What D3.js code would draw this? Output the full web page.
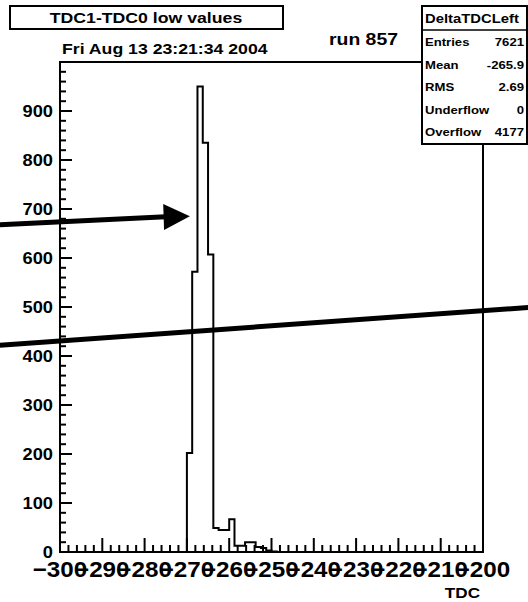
<!DOCTYPE html>
<html><head><meta charset="utf-8">
<script src="https://cdn.jsdelivr.net/npm/d3@7"></script>
<style>
body{margin:0;background:#fff}
svg{display:block}
text{font-family:"Liberation Sans",Arial,Helvetica,sans-serif;font-weight:bold;fill:#000}
</style>
</head><body>
<svg id="c" width="528" height="602"></svg>
<script>
// DeltaTDCLeft histogram: 80 bins of 1.25 TDC counts over [-300, -200)
const xDomain = [-300, -200];
const yDomain = [0, 1000];
const binWidth = 1.25;
const firstFilledEdge = -270;
const binCounts = [202, 572, 950, 835, 607, 49, 45, 45, 67, 13, 13, 20, 20, 10, 8, 3, 1];

const xMajorTicks = d3.range(-300, -199, 10);
const xMinorTicks = d3.range(-300, -199, 2);
const yMajorTicks = d3.range(0, 901, 100);
const yMinorTicks = d3.range(0, 1001, 20);

const titleText = "TDC1-TDC0 low values";
const dateText = "Fri Aug 13 23:21:34 2004";
const runText = "run 857";
const axisTitle = "TDC";
const statsName = "DeltaTDCLeft";
const statsLabels = ["Entries", "Mean", "RMS", "Underflow", "Overflow"];
const statsValues = ["7621", "-265.9", "2.69", "0", "4177"];

// hand-drawn annotations, in data units
const arrowShaft = [[-314.2, 668], [-275.0, 684]];
const arrowHead = [[-275.6, 710], [-269.3, 685], [-275.4, 657]];
const slashLine = [[-314.2, 422], [-189.3, 499]];

const svg = d3.select("#c");
const frame = {left: 60, right: 483, top: 62, bottom: 552};
const x = d3.scaleLinear().domain(xDomain).range([frame.left, frame.right]);
const y = d3.scaleLinear().domain(yDomain).range([frame.bottom, frame.top]);

// the canvas fonts are slightly wider than the stock glyphs
function stretch(k) {
  return sel => sel.each(function () {
    const len = this.getComputedTextLength();
    d3.select(this).attr("textLength", len * k).attr("lengthAdjust", "spacingAndGlyphs");
  });
}

// frame
svg.append("rect")
  .attr("x", frame.left).attr("y", frame.top)
  .attr("width", frame.right - frame.left).attr("height", frame.bottom - frame.top)
  .attr("fill", "none").attr("stroke", "#000").attr("stroke-width", 2);

// histogram outline
const pts = [[xDomain[0], 0]];
binCounts.forEach((c, i) => pts.push([firstFilledEdge + i * binWidth, c]));
pts.push([firstFilledEdge + binCounts.length * binWidth, 0]);
pts.push([xDomain[1], 0]);
svg.append("path")
  .attr("d", d3.line().x(d => x(d[0])).y(d => y(d[1])).curve(d3.curveStepAfter)(pts))
  .attr("fill", "none").attr("stroke", "#000").attr("stroke-width", 2);

// x axis ticks (drawn upward from the bottom of the frame)
const gx = svg.append("g").attr("transform", `translate(0,${frame.bottom})`);
gx.selectAll("line").data(xMinorTicks).join("line")
  .attr("x1", d => x(d)).attr("x2", d => x(d))
  .attr("y1", 0).attr("y2", d => (xMajorTicks.includes(d) ? -14 : -7))
  .attr("stroke", "#000").attr("stroke-width", 2);
gx.selectAll("text").data(xMajorTicks).join("text")
  .attr("x", d => x(d)).attr("y", 25)
  .attr("text-anchor", "middle").attr("font-size", 22)
  .text(d => d3.format("d")(d))
  .call(stretch(1.10));

// y axis ticks (drawn inward from the left of the frame)
const gy = svg.append("g").attr("transform", `translate(${frame.left},0)`);
gy.selectAll("line").data(yMinorTicks).join("line")
  .attr("y1", d => y(d)).attr("y2", d => y(d))
  .attr("x1", 0).attr("x2", d => (d % 100 === 0 ? 12 : 6))
  .attr("stroke", "#000").attr("stroke-width", 2);
gy.selectAll("text").data(yMajorTicks).join("text")
  .attr("x", -7).attr("y", d => y(d)).attr("dy", "0.36em")
  .attr("text-anchor", "end").attr("font-size", 16)
  .text(d => d)
  .call(stretch(1.14));

svg.append("text").attr("x", 480).attr("y", 598)
  .attr("text-anchor", "end").attr("font-size", 15).text(axisTitle).call(stretch(1.14));

// title box
svg.append("rect").attr("x", 10).attr("y", 6).attr("width", 273).attr("height", 23)
  .attr("fill", "#fff").attr("stroke", "#000").attr("stroke-width", 2);
svg.append("text").attr("x", 146).attr("y", 23).attr("text-anchor", "middle")
  .attr("font-size", 15.5).text(titleText).call(stretch(1.14));
svg.append("text").attr("x", 62).attr("y", 54).attr("font-size", 15.5).text(dateText).call(stretch(1.14));
svg.append("text").attr("x", 329).attr("y", 45).attr("font-size", 17).text(runText).call(stretch(1.14));

// statistics box
const sb = {left: 422, right: 527, top: 6, head: 30, bottom: 144};
svg.append("rect").attr("x", sb.left).attr("y", sb.top)
  .attr("width", sb.right - sb.left).attr("height", sb.bottom - sb.top)
  .attr("fill", "#fff").attr("stroke", "#000").attr("stroke-width", 2);
svg.append("line").attr("x1", sb.left).attr("x2", sb.right).attr("y1", sb.head).attr("y2", sb.head)
  .attr("stroke", "#000").attr("stroke-width", 1.5);
svg.append("text").attr("x", sb.left + 3).attr("y", 23).attr("font-size", 13).text(statsName)
  .call(stretch(1.14));
const rowY = d3.scalePoint().domain(statsLabels).range([42, 132]);
svg.selectAll("text.sl").data(statsLabels).join("text").attr("class", "sl")
  .attr("x", sb.left + 3).attr("y", d => rowY(d)).attr("dy", "0.36em")
  .attr("font-size", 11.5).text(d => d).call(stretch(1.14));
svg.selectAll("text.sv").data(statsValues).join("text").attr("class", "sv")
  .attr("x", sb.right - 3).attr("y", (d, i) => rowY(statsLabels[i])).attr("dy", "0.36em")
  .attr("text-anchor", "end").attr("font-size", 11.5).text(d => d).call(stretch(1.14));

// annotations
const toPx = p => [x(p[0]), y(p[1])];
svg.append("line")
  .attr("x1", toPx(arrowShaft[0])[0]).attr("y1", toPx(arrowShaft[0])[1])
  .attr("x2", toPx(arrowShaft[1])[0]).attr("y2", toPx(arrowShaft[1])[1])
  .attr("stroke", "#000").attr("stroke-width", 5);
svg.append("polygon").attr("points", arrowHead.map(toPx).map(p => p.join(",")).join(" "))
  .attr("fill", "#000");
svg.append("line")
  .attr("x1", toPx(slashLine[0])[0]).attr("y1", toPx(slashLine[0])[1])
  .attr("x2", toPx(slashLine[1])[0]).attr("y2", toPx(slashLine[1])[1])
  .attr("stroke", "#000").attr("stroke-width", 5);
</script>
</body></html>
